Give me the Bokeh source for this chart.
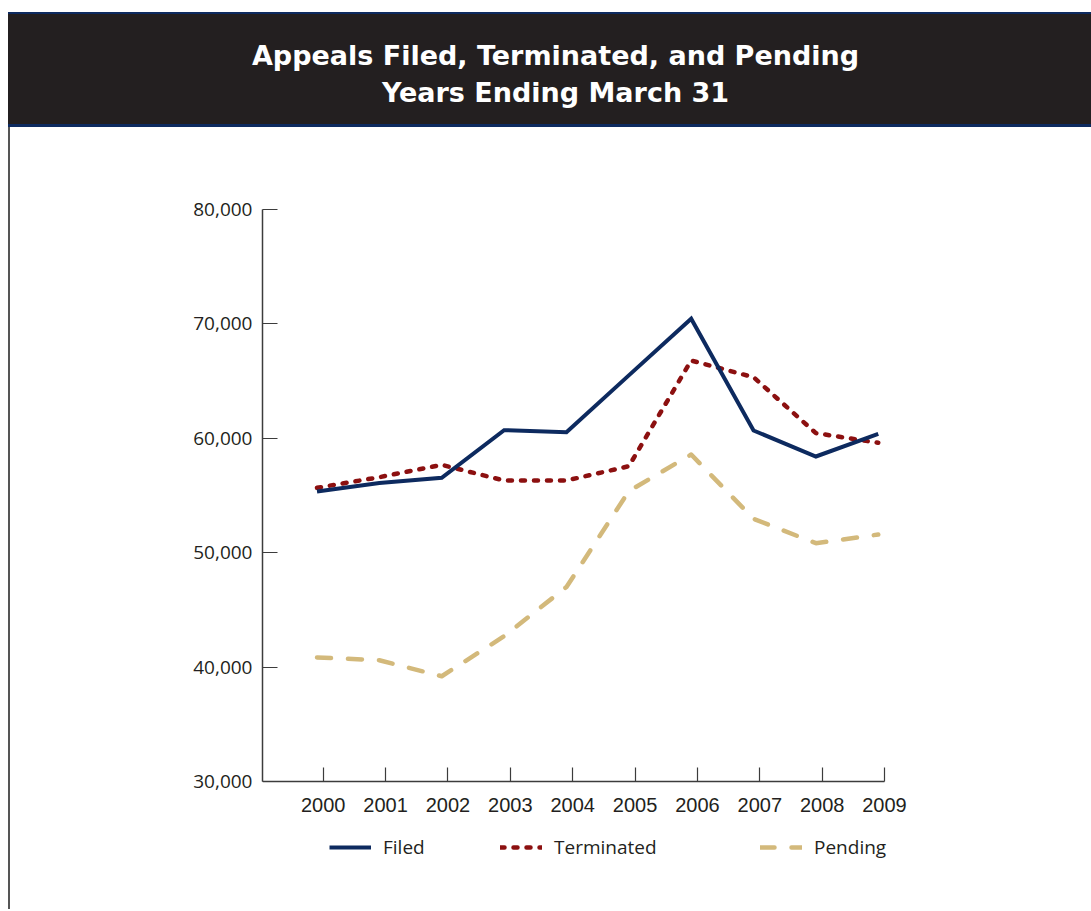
from bokeh.plotting import figure
from bokeh.models import (Range1d, FixedTicker, NumeralTickFormatter, CustomJSTickFormatter,
                          Legend, LegendItem, ColumnDataSource, Div)
from bokeh.layouts import column
from bokeh.embed import file_html
from bokeh.resources import INLINE

# ---------------- data ----------------
years = [2000, 2001, 2002, 2003, 2004, 2005, 2006, 2007, 2008, 2009]
filed = [55350, 56100, 56550, 60710, 60530, 65500, 70450, 60680, 58410, 60390]
terminated = [55670, 56600, 57680, 56310, 56310, 57560, 66800, 65340, 60450, 59610]
pending = [40840, 40600, 39200, 42700, 47000, 55380, 58580, 52960, 50830, 51590]
y_ticks = [30000, 40000, 50000, 60000, 70000, 80000]
title_lines = ["Appeals Filed, Terminated, and Pending", "Years Ending March 31"]
series_names = ["Filed", "Terminated", "Pending"]

NAVY = "#0d2a5f"
RED = "#8c1010"
TAN = "#d3b97b"
DARK = "#231f20"
AXIS = "#3c3c3c"

# ---------------- header (HTML band) ----------------
hdr_html = ('<div style="display:block; box-sizing:border-box; width:1083px; text-align:center; '
            'color:white; font-family:\'DejaVu Sans\'; font-weight:bold; font-size:27px; '
            'line-height:37px; padding-top:23px; padding-left:12px; white-space:nowrap;">'
            + "<br>".join(title_lines) + '</div>')
hdr = Div(text=hdr_html, width=1083, height=115, margin=(12, 0, 0, 8),
          styles={"background-color": DARK, "border-top": "2px solid " + NAVY,
                  "border-bottom": "3px solid " + NAVY, "box-sizing": "border-box"})

# ---------------- main chart ----------------
Y_MIN_AXIS = 30000
X_AXIS_BOUNDS = (1999.126, 2009.1)
p = figure(frame_width=738, frame_height=656, output_backend="svg", toolbar_location=None,
           x_range=Range1d(1999.126, 2010.96), y_range=Range1d(22657, 80000),
           min_border_top=82, min_border_bottom=44, min_border_left=252, min_border_right=91,
           margin=(0, 0, 0, 10), styles={"box-shadow": "-2px 0 0 0 #555555"})
p.grid.visible = False
p.outline_line_color = None
p.background_fill_color = "white"
p.border_fill_color = "white"

src = ColumnDataSource(dict(year=years, filed=filed, terminated=terminated, pending=pending))

r_p = p.line("year", "pending", source=src, line_color=TAN, line_width=4.5,
             line_dash="14 17", line_cap="round", line_join="round")
r_t = p.line("year", "terminated", source=src, line_color=RED, line_width=4.5,
             line_dash="4 9", line_cap="round", line_join="round")
r_f = p.line("year", "filed", source=src, line_color=NAVY, line_width=4,
             line_join="miter")

# axes
xa = p.xaxis[0]
xa.fixed_location = Y_MIN_AXIS
xa.bounds = X_AXIS_BOUNDS
xa.ticker = FixedTicker(ticks=[y + 0.1 for y in years])
xa.formatter = CustomJSTickFormatter(code="return String(Math.round(tick - 0.1));")
xa.major_tick_in = 14
xa.major_tick_out = 0
xa.minor_tick_line_color = None
xa.axis_line_color = AXIS
xa.axis_line_width = 1.5
xa.major_tick_line_color = AXIS
xa.major_tick_line_width = 1.2
xa.major_label_standoff = 17
xa.major_label_text_font = "Liberation Sans"
xa.major_label_text_font_size = "20px"
xa.major_label_text_color = DARK

ya = p.yaxis[0]
ya.bounds = (Y_MIN_AXIS, 80000)
ya.ticker = FixedTicker(ticks=y_ticks)
ya.formatter = NumeralTickFormatter(format="0,0")
ya.major_tick_in = 15
ya.major_tick_out = 0
ya.minor_tick_line_color = None
ya.axis_line_color = AXIS
ya.axis_line_width = 1.5
ya.major_tick_line_color = AXIS
ya.major_tick_line_width = 1.2
ya.major_label_standoff = 10
ya.major_label_text_font = "Open Sans"
ya.major_label_text_font_size = "19px"
ya.major_label_text_color = DARK

# legends (three separate single-item legends under the axis)
renderers = [r_f, r_t, r_p]
leg_x = [67, 238, 498]
for name, r, lx in zip(series_names, renderers, leg_x):
    lg = Legend(items=[LegendItem(label=name, renderers=[r])], location=(lx, 5),
                orientation="horizontal", padding=0, margin=0, spacing=0,
                glyph_width=42, glyph_height=20, label_standoff=12,
                label_text_font="Open Sans", label_text_font_size="19px",
                label_text_color=DARK, border_line_color=None,
                background_fill_alpha=0)
    p.add_layout(lg, "center")

layout = column(hdr, p, spacing=0)

open("out.html", "w").write(file_html(layout, INLINE))
